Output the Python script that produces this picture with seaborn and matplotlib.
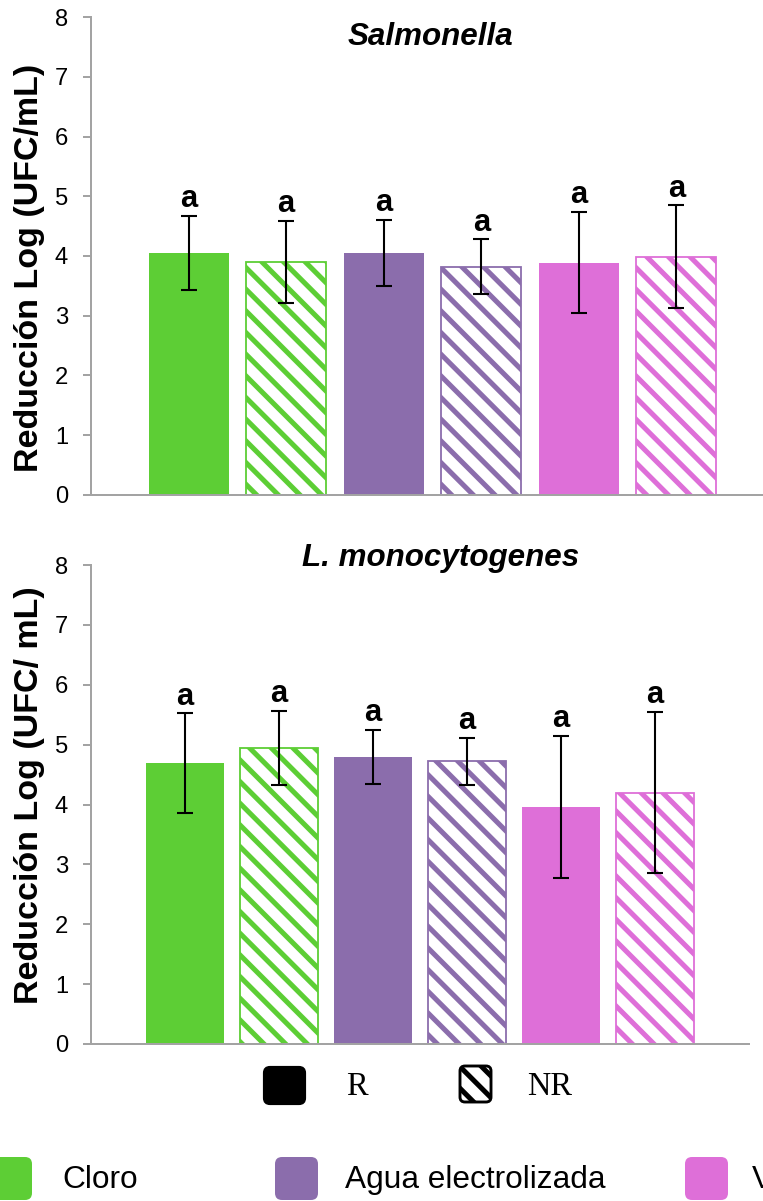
import numpy as np
import pandas as pd
import matplotlib
matplotlib.use("Agg")
import matplotlib.pyplot as plt
from matplotlib.patches import FancyBboxPatch
import seaborn as sns

# ---- data -------------------------------------------------------------
treatments = ["Cloro R", "Cloro NR",
              "Agua electrolizada R", "Agua electrolizada NR",
              "Vinagre R", "Vinagre NR"]
hatched = [False, True, False, True, False, True]

salmonella_mean = [4.05, 3.90, 4.05, 3.82, 3.89, 3.99]
salmonella_sd = [0.62, 0.69, 0.56, 0.46, 0.85, 0.86]
salmonella_letters = ["a", "a", "a", "a", "a", "a"]

listeria_mean = [4.69, 4.94, 4.80, 4.72, 3.96, 4.20]
listeria_sd = [0.83, 0.62, 0.45, 0.39, 1.19, 1.35]
listeria_letters = ["a", "a", "a", "a", "a", "a"]

legend_groups = ["Cloro", "Agua electrolizada", "Vinagre"]
group_colors = ["#5DCE35", "#8B6DAC", "#DE6FD8"]
bar_colors = [group_colors[i // 2] for i in range(len(treatments))]

# ---- style ------------------------------------------------------------
DPI = 130
sns.set_theme(style="white")
plt.rcParams["font.family"] = ["Liberation Sans", "DejaVu Sans"]
plt.rcParams["hatch.linewidth"] = 2.8

SPINE = "#A3A3A3"
STRIPES = "\\\\"

fig = plt.figure(figsize=(763 / DPI, 1201 / DPI), dpi=DPI)
W, H = 763.0, 1201.0


def panel(rect, means, sds, letters, title, title_xy, ylabel, ylabel_xy):
    ax = fig.add_axes(rect)
    df = pd.DataFrame({"trat": treatments, "val": means})
    sns.barplot(data=df, x="trat", y="val", hue="trat", order=treatments,
                hue_order=treatments, palette=bar_colors, saturation=1,
                width=0.82, errorbar=None, legend=False, ax=ax,
                linewidth=0)
    bars = sorted(ax.patches, key=lambda p: p.get_x())
    centers = []
    for p, col, h in zip(bars, bar_colors, hatched):
        centers.append(p.get_x() + p.get_width() / 2)
        if h:
            p.set_facecolor("white")
            p.set_edgecolor(col)
            p.set_hatch(STRIPES)
            p.set_linewidth(1.0)
        else:
            p.set_edgecolor("none")
    ax.errorbar(centers, means, yerr=sds, fmt="none", ecolor="black",
                elinewidth=1.15, capsize=4.5, capthick=1.15, zorder=5)
    for x, m, s, lab in zip(centers, means, sds, letters):
        ax.annotate(lab, (x, m + s), xytext=(0, 4.8),
                    textcoords="offset points", ha="center", va="baseline",
                    fontsize=17.2, fontweight="bold", color="black")
    ax.set_xlim(-1, 6)
    ax.set_ylim(0, 8)
    ax.set_yticks(range(0, 9))
    ax.set_xticks([])
    ax.set_xlabel("")
    ax.set_ylabel(ylabel, fontsize=18.8, fontweight="bold", color="black")
    ax.yaxis.set_label_coords(*ylabel_xy)
    ax.tick_params(axis="y", which="major", left=True, length=4.4,
                   width=1.1, color=SPINE, pad=8.3, labelsize=13.2,
                   labelcolor="black")
    for side in ["top", "right"]:
        ax.spines[side].set_visible(False)
    for side in ["left", "bottom"]:
        ax.spines[side].set_color(SPINE)
        ax.spines[side].set_linewidth(1.1)
    ax.set_facecolor("white")
    ax.text(*title_xy, title, transform=ax.transAxes, ha="center",
            va="center", fontsize=17.4, fontweight="bold", style="italic",
            color="black")
    return ax


ax1 = panel([91 / W, 1 - 495 / H, 683 / W, 478 / H],
            salmonella_mean, salmonella_sd, salmonella_letters,
            "Salmonella", (0.497, 0.958),
            "Reducción Log (UFC/mL)", (-0.067, 0.476))
ax2 = panel([91 / W, 1 - 1044 / H, 658 / W, 479 / H],
            listeria_mean, listeria_sd, listeria_letters,
            "L. monocytogenes", (0.532, 1.0146),
            "Reducción Log (UFC/ mL)", (-0.0699, 0.52))

# ---- legends drawn on a pixel-space overlay ---------------------------
ov = fig.add_axes([0, 0, 1, 1], zorder=10)
ov.set_xlim(0, W)
ov.set_ylim(H, 0)
ov.axis("off")
ov.patch.set_alpha(0)

# R / NR key
ov.add_patch(FancyBboxPatch((264, 1067), 41, 37,
                            boxstyle="round,pad=0,rounding_size=6",
                            facecolor="black", edgecolor="black", lw=1.2))
ov.add_patch(FancyBboxPatch((460, 1066), 31, 36,
                            boxstyle="round,pad=0,rounding_size=5",
                            facecolor="white", edgecolor="black", lw=1.6,
                            hatch=STRIPES))
ov.text(357, 1087, "R", ha="center", va="center", fontsize=18,
        family=["Liberation Serif", "DejaVu Serif"], color="black")
ov.text(550, 1087, "NR", ha="center", va="center", fontsize=18,
        family=["Liberation Serif", "DejaVu Serif"], color="black")

# treatment colour key
swatch_x = [-11, 275, 685]
label_x = [62, 345, 752]
for sx, lx, name, col in zip(swatch_x, label_x, legend_groups, group_colors):
    ov.add_patch(FancyBboxPatch((sx, 1157), 43, 43,
                                boxstyle="round,pad=0,rounding_size=7",
                                facecolor=col, edgecolor="none"))
    ov.text(lx, 1180, name, ha="left", va="center", fontsize=17.5,
            color="black")

fig.savefig("out.png", dpi=DPI, facecolor="white")
